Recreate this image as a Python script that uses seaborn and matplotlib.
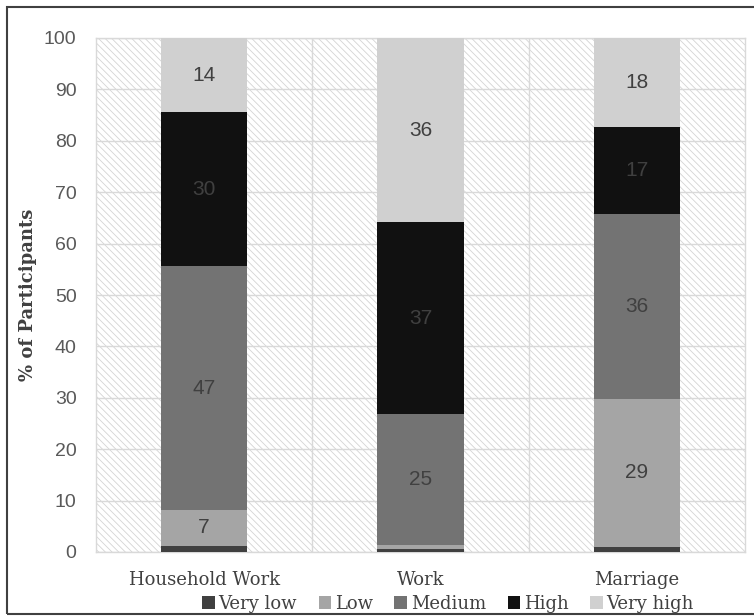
import matplotlib.pyplot as plt
import numpy as np
import pandas as pd
import seaborn as sns
from matplotlib.patches import Patch, Rectangle

# Share of participants (%) per rating level for each domain
categories = ["Household Work", "Work", "Marriage"]
levels = ["Very low", "Low", "Medium", "High", "Very high"]
very_low = [1.2, 0.6, 1.0]
low = [7.0, 0.8, 28.8]
medium = [47.4, 25.4, 36.0]
high = [30.0, 37.4, 16.8]
very_high = [14.4, 35.8, 17.6]

colors = ["#404040", "#a5a5a5", "#737373", "#111111", "#d0d0d0"]

df = pd.DataFrame(
    {"Very low": very_low, "Low": low, "Medium": medium, "High": high, "Very high": very_high},
    index=categories,
)
cum = df.cumsum(axis=1)

sns.set_style("white")
plt.rcParams["hatch.linewidth"] = 0.6

fig = plt.figure(figsize=(7.54, 6.16), dpi=100)
ax = fig.add_axes([96 / 754, 1 - 552 / 616, (745 - 96) / 754, (552 - 38) / 616])

# hatched plot area background
ax.add_patch(Rectangle((0, 0), 1, 1, transform=ax.transAxes, facecolor="white",
                       edgecolor="#d4d4d4", hatch="\\\\\\\\\\", linewidth=0, zorder=0))

# stacked bars: draw cumulative totals from the top level down
for level, color in reversed(list(zip(levels, colors))):
    sns.barplot(x=categories, y=cum[level].values, color=color, saturation=1,
                width=0.4, ax=ax, zorder=3, linewidth=0)

# value labels (levels of 5% and more)
for i, cat in enumerate(categories):
    for level in levels:
        v = df.loc[cat, level]
        if v < 5:
            continue
        mid = cum.loc[cat, level] - v / 2
        ax.text(i, mid, f"{v:.0f}", ha="center", va="center", zorder=5,
                fontsize=15, color="#404040", family="Liberation Sans")

ax.set_ylim(0, 100)
ax.set_xlim(-0.5, 2.5)
ax.set_yticks(np.arange(0, 101, 10))
ax.set_xticks([0.5, 1.5], minor=True)
ax.grid(axis="y", which="major", color="#d9d9d9", linewidth=1, zorder=1)
ax.grid(axis="x", which="minor", color="#d9d9d9", linewidth=1, zorder=1)
ax.set_axisbelow(True)
for s in ax.spines.values():
    s.set_color("#d9d9d9")
    s.set_linewidth(1)

ax.tick_params(axis="both", which="both", length=0)
ax.tick_params(axis="y", pad=14)
ax.tick_params(axis="x", pad=14)
for t in ax.get_yticklabels():
    t.set_family("Liberation Sans")
    t.set_fontsize(14)
    t.set_color("#595959")
for t in ax.get_xticklabels():
    t.set_family("DejaVu Serif")
    t.set_fontsize(13)
    t.set_color("#404040")

ax.set_xlabel("")
ax.set_ylabel("% of Participants", family="DejaVu Serif", fontsize=13,
              fontweight="bold", color="#404040", labelpad=5)

handles = [Patch(facecolor=c, edgecolor="none") for c in colors]
leg = fig.legend(handles, levels, loc="center", bbox_to_anchor=(448 / 754, 1 - 604 / 616),
                 ncol=5, frameon=False, handlelength=0.7, handleheight=0.7,
                 handletextpad=0.2, columnspacing=1.2,
                 prop={"family": "DejaVu Serif", "size": 13})
for t in leg.get_texts():
    t.set_color("#404040")

# outer frame of the figure
fig.patches.append(Rectangle((7 / 754, 2 / 616), 750 / 754, 607 / 616,
                             transform=fig.transFigure, fill=False,
                             edgecolor="#404040", linewidth=1.5))

fig.savefig("out.png", dpi=100)
